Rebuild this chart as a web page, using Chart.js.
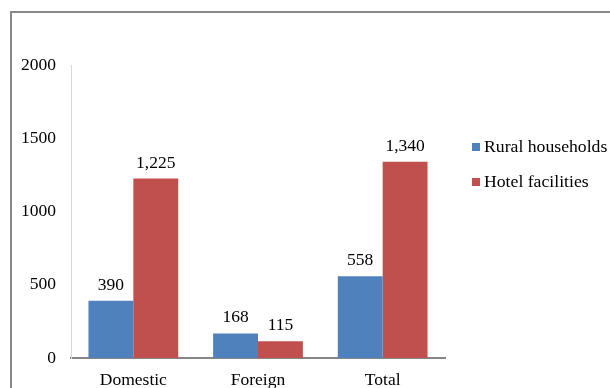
<!DOCTYPE html>
<html>
<head>
<meta charset="utf-8">
<script src="https://cdn.jsdelivr.net/npm/chart.js@4/dist/chart.umd.min.js"></script>
<style>
  html, body { margin: 0; padding: 0; background: #fff; }
  #wrap { position: relative; width: 610px; height: 388px; }
</style>
</head>
<body>
<div id="wrap"><canvas id="c" width="610" height="388"></canvas></div>
<script>
const categories = ["Domestic", "Foreign", "Total"];
const seriesNames = ["Rural households", "Hotel facilities"];
const ruralHouseholds = [390, 168, 558];
const hotelFacilities = [1225, 115, 1340];
const yTicks = [0, 500, 1000, 1500, 2000];
const colors = ["#4F81BD", "#C0504D"];

const FONT = "'Liberation Serif', 'Times New Roman', serif";

const bgBorder = {
  id: 'bgBorder',
  beforeDraw(chart) {
    const ctx = chart.ctx;
    ctx.save();
    ctx.fillStyle = '#fff';
    ctx.fillRect(0, 0, chart.width, chart.height);
    ctx.strokeStyle = '#888888';
    ctx.lineWidth = 2;
    ctx.strokeRect(11, 12, chart.width + 20, chart.height + 20);
    ctx.restore();
  }
};

const valueLabels = {
  id: 'valueLabels',
  afterDatasetsDraw(chart) {
    const ctx = chart.ctx;
    ctx.save();
    ctx.font = '17.5px ' + FONT;
    ctx.fillStyle = '#000';
    ctx.textAlign = 'center';
    ctx.textBaseline = 'alphabetic';
    chart.data.datasets.forEach((ds, i) => {
      const meta = chart.getDatasetMeta(i);
      meta.data.forEach((bar, j) => {
        ctx.fillText(ds.data[j].toLocaleString('en-US'), bar.x, bar.y - 11);
      });
    });
    ctx.restore();
  }
};

const customLegend = {
  id: 'customLegend',
  afterDraw(chart) {
    const ctx = chart.ctx;
    const a = chart.chartArea;
    ctx.save();
    ctx.font = '17.7px ' + FONT;
    ctx.textBaseline = 'middle';
    ctx.textAlign = 'left';
    chart.data.datasets.forEach((ds, i) => {
      const x = a.right + 27;
      const y = a.top + 82 + i * 35;
      ctx.fillStyle = ds.backgroundColor;
      ctx.fillRect(x, y - 4, 8, 8);
      ctx.fillStyle = '#000';
      ctx.fillText(ds.label, x + 12, y);
    });
    ctx.restore();
  }
};

new Chart(document.getElementById('c'), {
  type: 'bar',
  data: {
    labels: categories,
    datasets: [
      { label: seriesNames[0], data: ruralHouseholds, backgroundColor: colors[0] },
      { label: seriesNames[1], data: hotelFacilities, backgroundColor: colors[1] }
    ]
  },
  options: {
    responsive: false,
    animation: false,
    devicePixelRatio: 1,
    layout: { padding: { left: 0, right: 165, top: 65, bottom: 0 } },
    datasets: { bar: { categoryPercentage: 0.72, barPercentage: 1.0 } },
    plugins: {
      legend: { display: false },
      tooltip: { enabled: false }
    },
    scales: {
      x: {
        grid: { display: false, drawTicks: false },
        border: { color: '#868686', width: 2 },
        ticks: { color: '#000', font: { family: FONT, size: 17.5 }, padding: 12 },
        afterFit(scale) { scale.height = 30; }
      },
      y: {
        min: 0, max: 2000,
        grid: { display: false, drawTicks: false },
        border: { color: '#D9D9D9', width: 1 },
        afterBuildTicks(scale) { scale.ticks = yTicks.map(v => ({ value: v })); },
        ticks: {
          color: '#000', font: { family: FONT, size: 17.5 }, padding: 15,
          callback: (v) => String(v)
        },
        afterFit(scale) { scale.width = 71; }
      }
    }
  },
  plugins: [bgBorder, valueLabels, customLegend]
});
</script>
</body>
</html>
